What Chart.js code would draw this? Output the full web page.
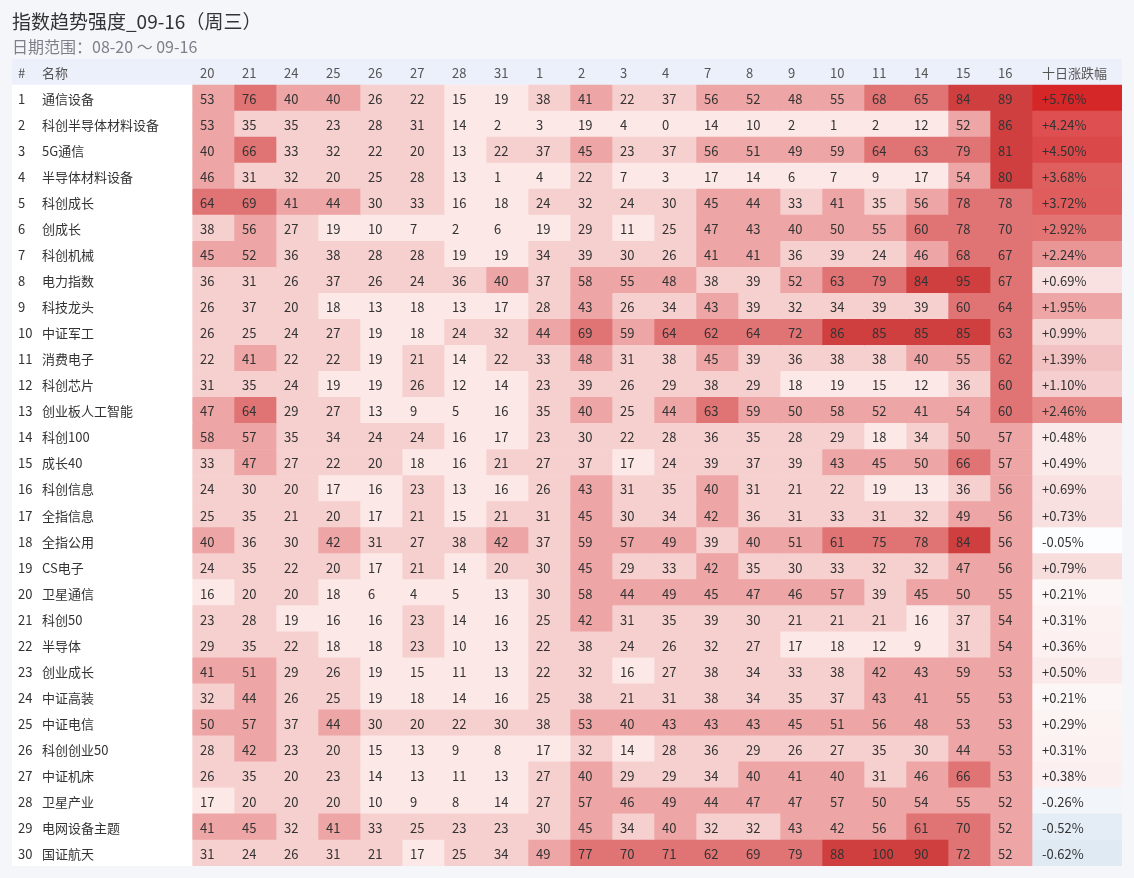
<!DOCTYPE html>
<html>
<head>
<meta charset="utf-8">
<title>指数趋势强度</title>
<script src="https://cdn.jsdelivr.net/npm/chart.js@4.4.0/dist/chart.umd.min.js"></script>
<style>
  html, body { margin: 0; padding: 0; background: #f5f6fa; }
  canvas { display: block; }
</style>
</head>
<body>
<canvas id="heat" width="1134" height="878"></canvas>
<script>
// ====== DATA ======
const DATES = ["20","21","24","25","26","27","28","31","1","2","3","4","7","8","9","10","11","14","15","16"];

const NAMES = [
  "通信设备","科创半导体材料设备","5G通信","半导体材料设备","科创成长","创成长","科创机械","电力指数","科技龙头","中证军工",
  "消费电子","科创芯片","创业板人工智能","科创100","成长40","科创信息","全指信息","全指公用","CS电子","卫星通信",
  "科创50","半导体","创业成长","中证高装","中证电信","科创创业50","中证机床","卫星产业","电网设备主题","国证航天"
];

// 十日涨跌幅 (%)
const CHANGES = [
  5.76, 4.24, 4.50, 3.68, 3.72, 2.92, 2.24, 0.69, 1.95, 0.99,
  1.39, 1.10, 2.46, 0.48, 0.49, 0.69, 0.73, -0.05, 0.79, 0.21,
  0.31, 0.36, 0.50, 0.21, 0.29, 0.31, 0.38, -0.26, -0.52, -0.62
];

// trend strength per row, one value per date
const SCORES = [
  [53,76,40,40,26,22,15,19,38,41,22,37,56,52,48,55,68,65,84,89],
  [53,35,35,23,28,31,14,2,3,19,4,0,14,10,2,1,2,12,52,86],
  [40,66,33,32,22,20,13,22,37,45,23,37,56,51,49,59,64,63,79,81],
  [46,31,32,20,25,28,13,1,4,22,7,3,17,14,6,7,9,17,54,80],
  [64,69,41,44,30,33,16,18,24,32,24,30,45,44,33,41,35,56,78,78],
  [38,56,27,19,10,7,2,6,19,29,11,25,47,43,40,50,55,60,78,70],
  [45,52,36,38,28,28,19,19,34,39,30,26,41,41,36,39,24,46,68,67],
  [36,31,26,37,26,24,36,40,37,58,55,48,38,39,52,63,79,84,95,67],
  [26,37,20,18,13,18,13,17,28,43,26,34,43,39,32,34,39,39,60,64],
  [26,25,24,27,19,18,24,32,44,69,59,64,62,64,72,86,85,85,85,63],
  [22,41,22,22,19,21,14,22,33,48,31,38,45,39,36,38,38,40,55,62],
  [31,35,24,19,19,26,12,14,23,39,26,29,38,29,18,19,15,12,36,60],
  [47,64,29,27,13,9,5,16,35,40,25,44,63,59,50,58,52,41,54,60],
  [58,57,35,34,24,24,16,17,23,30,22,28,36,35,28,29,18,34,50,57],
  [33,47,27,22,20,18,16,21,27,37,17,24,39,37,39,43,45,50,66,57],
  [24,30,20,17,16,23,13,16,26,43,31,35,40,31,21,22,19,13,36,56],
  [25,35,21,20,17,21,15,21,31,45,30,34,42,36,31,33,31,32,49,56],
  [40,36,30,42,31,27,38,42,37,59,57,49,39,40,51,61,75,78,84,56],
  [24,35,22,20,17,21,14,20,30,45,29,33,42,35,30,33,32,32,47,56],
  [16,20,20,18,6,4,5,13,30,58,44,49,45,47,46,57,39,45,50,55],
  [23,28,19,16,16,23,14,16,25,42,31,35,39,30,21,21,21,16,37,54],
  [29,35,22,18,18,23,10,13,22,38,24,26,32,27,17,18,12,9,31,54],
  [41,51,29,26,19,15,11,13,22,32,16,27,38,34,33,38,42,43,59,53],
  [32,44,26,25,19,18,14,16,25,38,21,31,38,34,35,37,43,41,55,53],
  [50,57,37,44,30,20,22,30,38,53,40,43,43,43,45,51,56,48,53,53],
  [28,42,23,20,15,13,9,8,17,32,14,28,36,29,26,27,35,30,44,53],
  [26,35,20,23,14,13,11,13,27,40,29,29,34,40,41,40,31,46,66,53],
  [17,20,20,20,10,9,8,14,27,57,46,49,44,47,47,57,50,54,55,52],
  [41,45,32,41,33,25,23,23,30,45,34,40,32,32,43,42,56,61,70,52],
  [31,24,26,31,21,17,25,34,49,77,70,71,62,69,79,88,100,90,72,52]
];

// ====== LAYOUT / STYLE ======
const FONT = "'Noto Sans CJK SC', Lato, sans-serif";
const HEADER_BG = "#ecf0fb";
const BODY_BG = "#ffffff";
const TEXT = "#333333";
const HEAD_TEXT = "#555555";
// column widths in "cell units" (one date column = 1)
const NAME_W = 180 / 42;
const PCT_W = 90 / 42;
const TOTAL_W = NAME_W + DATES.length + PCT_W;

const BINS = [
  [80, "#d03f3f"],
  [60, "#e07373"],
  [40, "#eea5a5"],
  [20, "#f6cfcf"],
  [0,  "#fde8e8"]
];

function binColor(v) {
  for (const [lo, c] of BINS) if (v >= lo) return c;
  return BINS[BINS.length - 1][1];
}

function hex(c) {
  return [1, 3, 5].map(i => parseInt(c.slice(i, i + 2), 16));
}
function mix(a, b, t) {
  const A = hex(a), B = hex(b);
  const r = A.map((v, i) => Math.round(v + (B[i] - v) * t));
  return `rgb(${r[0]},${r[1]},${r[2]})`;
}

const POS_STOPS = [[0, "#ffffff"], [1, "#f6d4d4"], [3, "#e27070"], [5.76, "#d62728"]];
function pctColor(v) {
  if (v < 0) return mix("#ffffff", "#dfeaf3", Math.min(1, -v / 0.62));
  for (let i = 1; i < POS_STOPS.length; i++) {
    const [x0, c0] = POS_STOPS[i - 1], [x1, c1] = POS_STOPS[i];
    if (v <= x1) return mix(c0, c1, (v - x0) / (x1 - x0));
  }
  return POS_STOPS[POS_STOPS.length - 1][1];
}

function fmtPct(v) {
  return (v > 0 ? "+" : v < 0 ? "-" : "") + Math.abs(v).toFixed(2) + "%";
}

// row 0 is the header row
const ROWS = ["header", ...NAMES];

const datasets = [];
datasets.push({
  label: "名称",
  data: ROWS.map(() => NAME_W),
  backgroundColor: ROWS.map((_, i) => i === 0 ? HEADER_BG : BODY_BG),
  texts: ROWS.map((_, i) => i === 0 ? ["#", "名称"] : [String(i), NAMES[i - 1]]),
  offsets: [6, 30]
});
DATES.forEach((d, j) => {
  datasets.push({
    label: d,
    data: ROWS.map(() => 1),
    backgroundColor: ROWS.map((_, i) => i === 0 ? HEADER_BG : binColor(SCORES[i - 1][j])),
    texts: ROWS.map((_, i) => [i === 0 ? d : String(SCORES[i - 1][j])]),
    offsets: [8]
  });
});
datasets.push({
  label: "十日涨跌幅",
  data: ROWS.map(() => PCT_W),
  backgroundColor: ROWS.map((_, i) => i === 0 ? HEADER_BG : pctColor(CHANGES[i - 1])),
  texts: ROWS.map((_, i) => [i === 0 ? "十日涨跌幅" : fmtPct(CHANGES[i - 1])]),
  offsets: [10]
});
datasets.forEach(ds => {
  ds.borderWidth = 0;
  ds.barPercentage = 1;
  ds.categoryPercentage = 1;
  ds.stack = "row";
});

// draws the cell texts on top of the bars
const cellText = {
  id: "cellText",
  afterDatasetsDraw(chart) {
    const ctx = chart.ctx;
    ctx.save();
    ctx.textBaseline = "middle";
    ctx.textAlign = "left";
    chart.data.datasets.forEach((ds, di) => {
      const meta = chart.getDatasetMeta(di);
      meta.data.forEach((bar, ri) => {
        const left = Math.min(bar.x, bar.base);
        ctx.fillStyle = ri === 0 ? HEAD_TEXT : TEXT;
        ctx.font = `13px ${FONT}`;
        ds.texts[ri].forEach((t, k) => {
          ctx.fillText(t, left + ds.offsets[k], bar.y + 1);
        });
      });
    });
    ctx.restore();
  }
};

new Chart(document.getElementById("heat"), {
  type: "bar",
  data: { labels: ROWS, datasets },
  options: {
    indexAxis: "y",
    responsive: false,
    devicePixelRatio: 1,
    animation: false,
    events: [],
    layout: { padding: { left: 12, right: 12, top: 0, bottom: 12 } },
    scales: {
      x: { type: "linear", stacked: true, min: 0, max: TOTAL_W, display: false },
      y: { stacked: true, display: false }
    },
    plugins: {
      legend: { display: false },
      tooltip: { enabled: false },
      title: {
        display: true,
        text: "指数趋势强度_09-16（周三）",
        align: "start",
        color: "#333",
        font: { family: FONT, size: 19, weight: "normal" },
        padding: { top: 10, bottom: 4 }
      },
      subtitle: {
        display: true,
        text: "日期范围：08-20 ～ 09-16",
        align: "start",
        color: "#7c808a",
        font: { family: FONT, size: 16, weight: "normal" },
        padding: { top: 1, bottom: 2 }
      }
    }
  },
  plugins: [cellText]
});
</script>
</body>
</html>
